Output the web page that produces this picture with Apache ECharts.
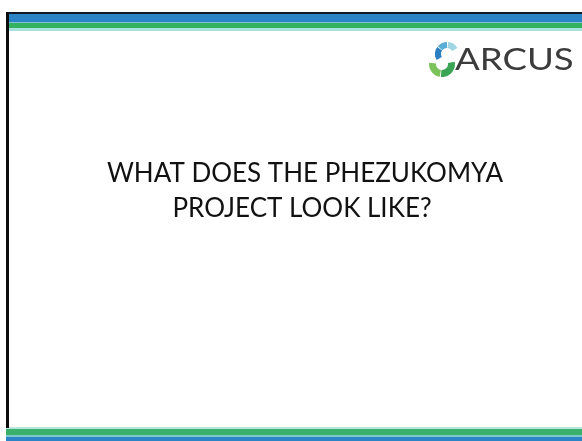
<!DOCTYPE html>
<html>
<head>
<meta charset="utf-8">
<script src="https://cdn.jsdelivr.net/npm/echarts@6/dist/echarts.min.js"></script>
<style>
	html, body { margin: 0; padding: 0; background: #fff; }
	#main { width: 582px; height: 441px; }
</style>
</head>
<body>
<div id="main"></div>
<script>
// slide text
const titleLines = ["WHAT DOES THE PHEZUKOMYA", "PROJECT LOOK LIKE?"]
const logoText = "ARCUS"
// stripe bands, top to bottom: [y, height, color]
const topBands = [
	[12, 2, "#0d1b26"],
	[14, 8, "#2b84c6"],
	[22, 1, "#7cc3d6"],
	[23, 5, "#35b25f"],
	[28, 3, "#a9e2dc"],
]
const bottomBands = [
	[427, 2, "#b6e6dc"],
	[429, 6, "#3bb06a"],
	[435, 2, "#7cc9c8"],
	[437, 4, "#2b84c6"],
]
// logo blades: [cx, cy, r0, r, startAngle, endAngle, color]
const logoBlades = [
	[447, 54, 6, 12, 150, 215, "#2b7fc1"],
	[447, 54, 6, 12, 220, 270, "#5aaed6"],
	[447, 54, 6, 12, 275, 330, "#9fd6e2"],
	[442, 64, 6, 13, -10, 95, "#3aa655"],
	[442, 64, 6, 13, 100, 185, "#7cc25a"],
]

const chart = echarts.init(document.getElementById("main"), null, { renderer: "canvas" })

const bandRect = (b) => ({
	type: "rect",
	shape: { x: 6, y: b[0], width: 576, height: b[1] },
	style: { fill: b[2] },
	silent: true,
})

const blade = (b) => ({
	type: "sector",
	shape: {
		cx: b[0], cy: b[1], r0: b[2], r: b[3],
		startAngle: (b[4] * Math.PI) / 180,
		endAngle: (b[5] * Math.PI) / 180,
	},
	style: { fill: b[6] },
	silent: true,
})

let option = {
	backgroundColor: "#ffffff",
	animation: false,
	graphic: [
		...topBands.map(bandRect),
		...bottomBands.map(bandRect),
		{
			type: "rect",
			shape: { x: 6, y: 12, width: 3, height: 416 },
			style: { fill: "#0b0b0b" },
		},
		...logoBlades.map(blade),
		{
			type: "text",
			x: 455,
			y: 45,
			scaleX: 1.22,
			style: {
				text: logoText,
				font: "30px Lato",
				fill: "#3c3c3c",
				verticalAlign: "top",
			},
		},
		{
			type: "text",
			x: 305,
			y: 161,
			style: {
				text: titleLines[0],
				font: "26px Lato",
				fill: "#111111",
				align: "center",
				verticalAlign: "top",
			},
		},
		{
			type: "text",
			x: 302,
			y: 196,
			style: {
				text: titleLines[1],
				font: "26px Lato",
				fill: "#111111",
				align: "center",
				verticalAlign: "top",
			},
		},
	],
}
chart.setOption(option)
</script>
</body>
</html>
